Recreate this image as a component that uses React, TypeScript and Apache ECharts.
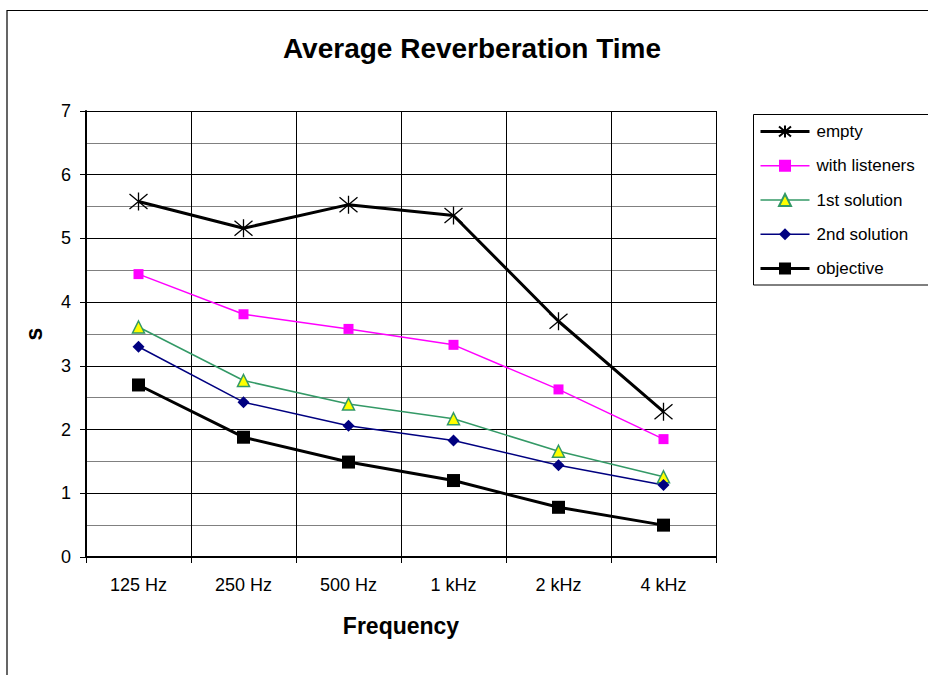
import React, { useEffect, useRef } from "react";
import * as echarts from "echarts";

const categories = ["125 Hz", "250 Hz", "500 Hz", "1 kHz", "2 kHz", "4 kHz"];
const emptyValues = [5.58, 5.16, 5.53, 5.36, 3.7, 2.28];
const listenersValues = [4.44, 3.81, 3.58, 3.33, 2.63, 1.85];
const firstSolutionValues = [3.61, 2.77, 2.4, 2.17, 1.66, 1.26];
const secondSolutionValues = [3.3, 2.43, 2.06, 1.83, 1.44, 1.13];
const objectiveValues = [2.7, 1.88, 1.49, 1.2, 0.78, 0.5];
const yTicks = [0, 1, 2, 3, 4, 5, 6, 7];

const FONT = "'Liberation Sans', Arial, sans-serif";
const ASTERISK = "path://M0,0L10,10M10,0L0,10M5,-1L5,11";

export default function App() {
  const ref = useRef<HTMLDivElement>(null);
  useEffect(() => {
    document.body.style.margin = "0";
    const chart = echarts.init(ref.current!, null, { renderer: "svg" });
    chart.setOption({
      animation: false,
      backgroundColor: "#fff",
      title: {
        text: "Average Reverberation Time",
        left: 467,
        textAlign: "center",
        top: 29,
        textStyle: { fontFamily: FONT, fontSize: 28, fontWeight: "bold", color: "#000" },
      },
      graphic: [
        {
          type: "rect",
          shape: { x: 7, y: 10.5, width: 1000, height: 1000 },
          style: { fill: "none", stroke: "#000", lineWidth: 1.2 },
          silent: true,
        },
        {
          type: "rect",
          shape: { x: 753.5, y: 114.5, width: 300, height: 170.5 },
          style: { fill: "#fff", stroke: "#000", lineWidth: 1 },
          silent: true,
          z: 0,
        },
      ],
      legend: {
        left: 759,
        top: 123,
        orient: "vertical",
        itemWidth: 49,
        itemHeight: 15,
        itemGap: 17.25,
        padding: 0,
        textStyle: { fontFamily: FONT, fontSize: 17, color: "#000", padding: [0, 0, 0, 2] },
        z: 10,
        data: [
          { name: "empty", lineStyle: { width: 3 } },
          { name: "with listeners", lineStyle: { width: 1.5 } },
          { name: "1st solution", lineStyle: { width: 1.5 } },
          { name: "2nd solution", lineStyle: { width: 1.5 } },
          { name: "objective", lineStyle: { width: 3 } },
        ],
      },
      grid: { left: 86, right: 212, top: 111, bottom: 118 },
      xAxis: {
        type: "category",
        data: categories,
        boundaryGap: true,
        name: "Frequency",
        nameLocation: "middle",
        nameGap: 57,
        nameTextStyle: { fontFamily: FONT, fontSize: 23, fontWeight: "bold", color: "#000" },
        axisLine: { lineStyle: { color: "#000", width: 2 } },
        axisTick: { show: true, length: 6, lineStyle: { color: "#000" } },
        axisLabel: { fontFamily: FONT, fontSize: 18, color: "#000", margin: 19 },
        splitLine: { show: true, lineStyle: { color: "#000", width: 1 } },
      },
      yAxis: {
        type: "value",
        min: yTicks[0],
        max: yTicks[yTicks.length - 1],
        interval: 1,
        name: "s",
        nameLocation: "middle",
        nameGap: 41,
        nameTextStyle: { fontFamily: FONT, fontSize: 23, fontWeight: "bold", color: "#000" },
        axisLine: { show: true, lineStyle: { color: "#000", width: 2 } },
        axisTick: { show: true, length: 6, lineStyle: { color: "#000" } },
        axisLabel: { fontFamily: FONT, fontSize: 18, color: "#000", margin: 15 },
        splitLine: { show: true, lineStyle: { color: "#000", width: 1.2 } },
        minorTick: { show: false, splitNumber: 2 },
        minorSplitLine: { show: true, lineStyle: { color: "#808080", width: 1 } },
      },
      series: [
        {
          name: "empty",
          type: "line",
          data: emptyValues,
          symbol: ASTERISK,
          symbolSize: 18,
          lineStyle: { color: "#000", width: 3 },
          itemStyle: { color: "#000", borderColor: "#000", borderWidth: 1.3 },
          z: 5,
        },
        {
          name: "with listeners",
          type: "line",
          data: listenersValues,
          symbol: "rect",
          symbolSize: 10,
          lineStyle: { color: "#FF00FF", width: 1.5 },
          itemStyle: { color: "#FF00FF", borderColor: "#FF00FF", borderWidth: 0 },
          z: 4,
        },
        {
          name: "1st solution",
          type: "line",
          data: firstSolutionValues,
          symbol: "triangle",
          symbolSize: 12,
          lineStyle: { color: "#339966", width: 1.5 },
          itemStyle: { color: "#FFFF00", borderColor: "#339966", borderWidth: 1.5 },
          z: 3,
        },
        {
          name: "2nd solution",
          type: "line",
          data: secondSolutionValues,
          symbol: "diamond",
          symbolSize: 12,
          lineStyle: { color: "#000080", width: 1.5 },
          itemStyle: { color: "#000080", borderColor: "#000080", borderWidth: 0 },
          z: 3,
        },
        {
          name: "objective",
          type: "line",
          data: objectiveValues,
          symbol: "rect",
          symbolSize: 13,
          lineStyle: { color: "#000", width: 3 },
          itemStyle: { color: "#000", borderColor: "#000", borderWidth: 0 },
          z: 5,
        },
      ],
    });
    return () => chart.dispose();
  }, []);
  return <div ref={ref} style={{ width: 928, height: 675 }} />;
}
